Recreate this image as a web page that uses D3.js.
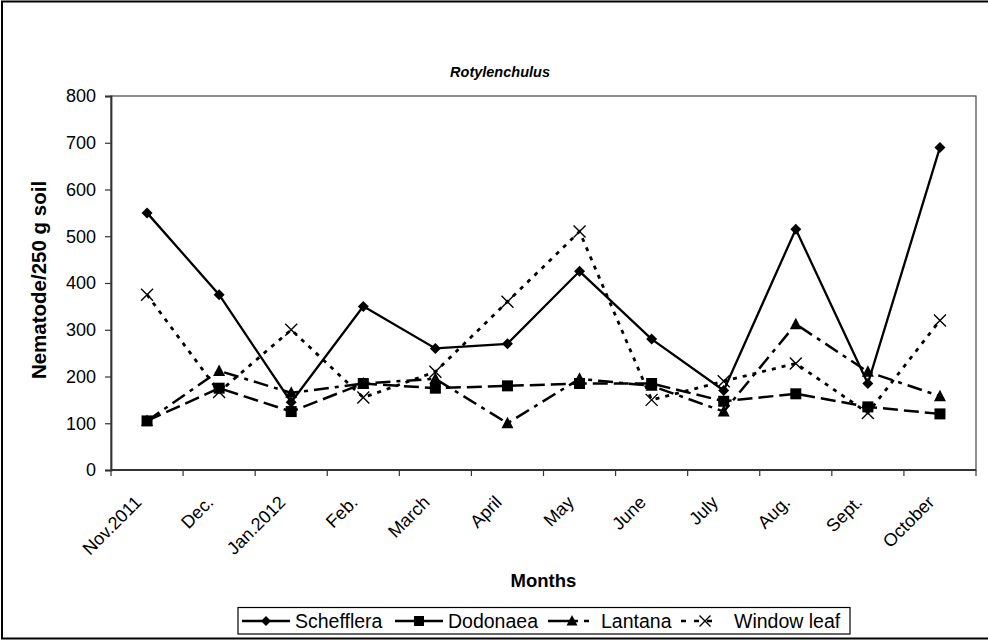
<!DOCTYPE html>
<html><head><meta charset="utf-8">
<script src="https://cdn.jsdelivr.net/npm/d3@7"></script>
<style>body{margin:0;background:#fff}svg{display:block;font-family:"Liberation Sans",Arial,sans-serif}</style>
</head><body><svg id="c" width="988" height="640"></svg>
<script>
const months = ["Nov.2011","Dec.","Jan.2012","Feb.","March","April","May","June","July","Aug.","Sept.","October"];
const schefflera = [550,375,145,350,260,270,425,280,170,515,185,690];
const dodonaea   = [105,175,125,185,175,180,185,185,147,163,135,120];
const lantana    = [105,212,165,185,195,100,195,180,125,312,210,158];
const windowLeaf = [375,167,300,155,210,360,510,150,190,228,122,320];
const yTicks = [0,100,200,300,400,500,600,700,800];
const seriesNames = ["Schefflera","Dodonaea","Lantana","Window leaf"];

const series = [
  {name: seriesNames[0], values: schefflera, dash: null, width: 2.3, marker: "diamond"},
  {name: seriesNames[1], values: dodonaea, dash: "15,6", width: 2.5, marker: "square"},
  {name: seriesNames[2], values: lantana, dash: "15,6,4,6", width: 2.5, marker: "triangle"},
  {name: seriesNames[3], values: windowLeaf, dash: "4,6", width: 2.8, marker: "x"}
];

const svg = d3.select("#c");
const W = 988, H = 640;
const L = 111, R = 976, T = 96, B = 470;
const FONT = "Liberation Sans, Arial, sans-serif";

svg.append("rect").attr("x",2).attr("y",1.5).attr("width",W+10).attr("height",H-3)
  .attr("fill","none").attr("stroke","#000").attr("stroke-width",2);

const x = d3.scaleBand().domain(months).range([L,R]);
const y = d3.scaleLinear().domain([0,800]).range([B,T]);

// plot frame
svg.append("rect").attr("x",L).attr("y",T).attr("width",R-L).attr("height",B-T)
  .attr("fill","none").attr("stroke","#444").attr("stroke-width",1.2);

// y axis
const ya = svg.append("g").attr("transform",`translate(${L},0)`)
  .call(d3.axisLeft(y).tickValues(yTicks).tickSize(6).tickPadding(9));
ya.selectAll("text").attr("font-size",18).attr("fill","#000").attr("font-family",FONT);
ya.selectAll("line").attr("stroke","#333").attr("stroke-width",1.2);
ya.select(".domain").attr("stroke","#333").attr("stroke-width",1.8);

// x axis with ticks on band boundaries
const xa = svg.append("g").attr("transform",`translate(0,${B})`);
xa.append("line").attr("x1",L).attr("x2",R).attr("y1",0).attr("y2",0).attr("stroke","#333").attr("stroke-width",1.8);
const bounds = months.map(m => x(m)).concat([R]);
xa.selectAll("line.tk").data(bounds).join("line").attr("class","tk")
  .attr("x1",d=>d).attr("x2",d=>d).attr("y1",0).attr("y2",6).attr("stroke","#333").attr("stroke-width",1.2);
xa.selectAll("text").data(months).join("text")
  .attr("transform",d=>`translate(${x(d)+x.bandwidth()/2-9},${29}) rotate(-45)`)
  .attr("text-anchor","end").attr("dy","0.35em").attr("font-size",18).text(d=>d);

// titles
svg.append("text").attr("x",500).attr("y",77).attr("text-anchor","middle")
  .attr("font-size",14.5).attr("font-weight","bold").attr("font-style","italic").text("Rotylenchulus");
svg.append("text").attr("x",(L+R)/2).attr("y",587).attr("text-anchor","middle")
  .attr("font-size",18.5).attr("font-weight","bold").text("Months");
svg.append("text").attr("transform",`translate(46,280) rotate(-90)`).attr("text-anchor","middle")
  .attr("font-size",20.5).attr("font-weight","bold").text("Nematode/250 g soil");

function drawMarker(g, type, cx, cy, s) {
  if (type === "diamond") {
    g.append("path").attr("d",`M${cx},${cy-s}L${cx+s},${cy}L${cx},${cy+s}L${cx-s},${cy}Z`).attr("fill","#000");
  } else if (type === "square") {
    g.append("rect").attr("x",cx-s).attr("y",cy-s).attr("width",2*s).attr("height",2*s).attr("fill","#000");
  } else if (type === "triangle") {
    g.append("path").attr("d",`M${cx},${cy-s-1}L${cx+s+0.5},${cy+s-0.5}L${cx-s-0.5},${cy+s-0.5}Z`).attr("fill","#000");
  } else {
    g.append("path").attr("d",`M${cx-s},${cy-s}L${cx+s},${cy+s}M${cx-s},${cy+s}L${cx+s},${cy-s}`)
      .attr("stroke","#000").attr("stroke-width",1.4).attr("fill","none");
  }
}
const msize = {diamond:5.5, square:5.5, triangle:5.5, x:6};

const line = d3.line().x((d,i)=>x(months[i])+x.bandwidth()/2).y(d=>y(d));
series.forEach(s => {
  svg.append("path").datum(s.values).attr("d",line).attr("fill","none")
    .attr("stroke","#000").attr("stroke-width",s.width).attr("stroke-dasharray",s.dash);
});
series.forEach(s => {
  const g = svg.append("g");
  s.values.forEach((v,i) => drawMarker(g, s.marker, x(months[i])+x.bandwidth()/2, y(v), msize[s.marker]));
});

// legend
const lg = svg.append("g");
lg.append("rect").attr("x",238).attr("y",607.5).attr("width",612).attr("height",26.5)
  .attr("fill","#fff").attr("stroke","#000").attr("stroke-width",1.2);
const legX = [242, 395, 548, 681];
const legDash = [null, null, "30,6,5,20", "5,8,5,8,5,20"];
series.forEach((s,i) => {
  const lx = legX[i], ly = 621;
  lg.append("line").attr("x1",lx).attr("x2",lx+48).attr("y1",ly).attr("y2",ly)
    .attr("stroke","#000").attr("stroke-width",2.4).attr("stroke-dasharray", legDash[i]);
  drawMarker(lg, s.marker, lx+24, ly, msize[s.marker]-0.5);
  lg.append("text").attr("x",lx+53).attr("y",628).attr("font-size",19.5).text(s.name);
});
</script></body></html>
